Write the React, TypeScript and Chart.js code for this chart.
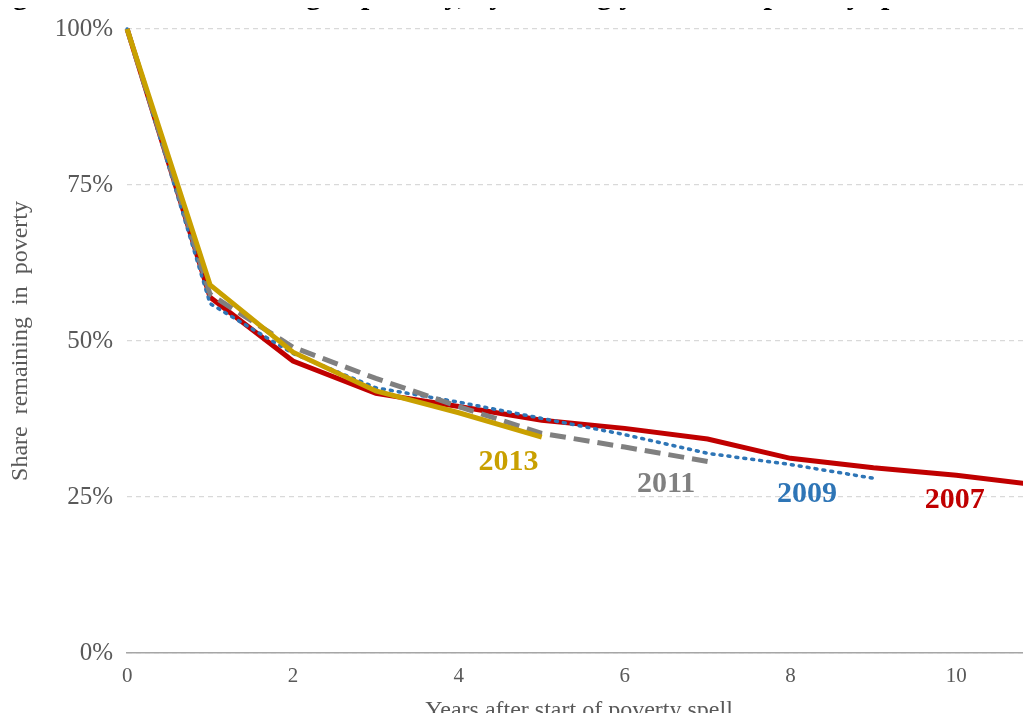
import React, { useEffect, useRef } from 'react';
import Chart from 'chart.js/auto';

const years = [0, 1, 2, 3, 4, 5, 6, 7, 8, 9, 10, 11];
const s2007 = [100, 57, 46.8, 41.6, 39.5, 37.3, 36, 34.3, 31.2, 29.7, 28.5, 26.9];
const s2009 = [100, 56, 48, 42.5, 40.2, 37.6, 35, 32, 30.2, 28];
const s2011 = [100, 57.5, 49, 44, 39.5, 35.2, 33, 30.7];
const s2013 = [100, 59, 48.2, 42, 38.5, 34.6];
const seriesLabels = ['2007', '2009', '2011', '2013'];
const labelPos = [[9.98, 24.5], [8.2, 25.5], [6.5, 27], [4.6, 30.5]];
const colors = ['#C00000', '#2E75B6', '#808080', '#C9A000'];

const pts = (arr: number[]) => arr.map((y, i) => ({ x: years[i], y }));

const App: React.FC = () => {
  const canvasRef = useRef<HTMLCanvasElement>(null);
  const chartRef = useRef<Chart | null>(null);

  useEffect(() => {
    if (!canvasRef.current) return;
    if (chartRef.current) chartRef.current.destroy();

    const annot = {
      id: 'annot',
      afterDatasetsDraw(chart: any) {
        const { ctx, scales } = chart;
        ctx.save();
        ctx.font = 'bold 30px "Liberation Serif"';
        ctx.textAlign = 'center';
        ctx.textBaseline = 'middle';
        seriesLabels.forEach((t, i) => {
          ctx.fillStyle = colors[i];
          ctx.fillText(t, scales.x.getPixelForValue(labelPos[i][0]), scales.y.getPixelForValue(labelPos[i][1]));
        });
        ctx.fillStyle = '#000';
        ctx.textAlign = 'left';
        ctx.textBaseline = 'alphabetic';
        ctx.fillText('Figure 1. Share remaining in poverty, by starting year of the poverty spell', -14, 4);
        ctx.restore();
      },
    };

    const ds = [s2007, s2009, s2011, s2013].map((d, i) => ({
      label: seriesLabels[i],
      data: pts(d),
      borderColor: colors[i],
      borderWidth: i === 1 ? 3.5 : 5,
      borderDash: i === 1 ? [2, 6] : i === 2 ? [16, 8] : [],
      borderCapStyle: i === 1 ? 'round' : 'butt',
      pointRadius: 0,
      fill: false,
      tension: 0,
    }));
    ds.reverse();

    chartRef.current = new Chart(canvasRef.current, {
      type: 'line',
      data: { datasets: ds as any },
      options: {
        responsive: true,
        maintainAspectRatio: false,
        animation: false,
        clip: false as any,
        layout: { padding: { top: 16, right: -8, bottom: -4, left: 2 } },
        scales: {
          x: {
            type: 'linear',
            min: 0,
            max: 10.9,
            grid: { display: false, drawTicks: true },
            border: { color: '#A6A6A6', width: 1.5 },
            afterBuildTicks: (s: any) => { s.ticks = [0, 2, 4, 6, 8, 10].map((v) => ({ value: v })); },
            ticks: { color: '#595959', font: { family: 'Liberation Serif', size: 21 } },
            title: { display: true, text: 'Years after start of poverty spell', color: '#595959', font: { family: 'Liberation Serif', size: 24 }, padding: { top: 4, bottom: 0 } },
          },
          y: {
            min: 0,
            max: 100,
            grid: { color: '#D9D9D9', lineWidth: 1.2, tickLength: 0 },
            border: { display: false, dash: [5, 4] },
            ticks: { stepSize: 25, color: '#595959', padding: 14, font: { family: 'Liberation Serif', size: 25 }, callback: (v: any) => v + '%' },
            title: { display: true, text: 'Share  remaining  in  poverty', color: '#595959', font: { family: 'Liberation Serif', size: 24 }, padding: { bottom: 6 } },
          },
        },
        plugins: { legend: { display: false }, tooltip: { enabled: false } },
      },
      plugins: [annot],
    });

    return () => {
      if (chartRef.current) chartRef.current.destroy();
    };
  }, []);

  return (
    <div style={{ position: 'relative', width: 1031, height: 721, margin: -8, background: '#fff' }}>
      <canvas ref={canvasRef}></canvas>
    </div>
  );
};

export default App;
